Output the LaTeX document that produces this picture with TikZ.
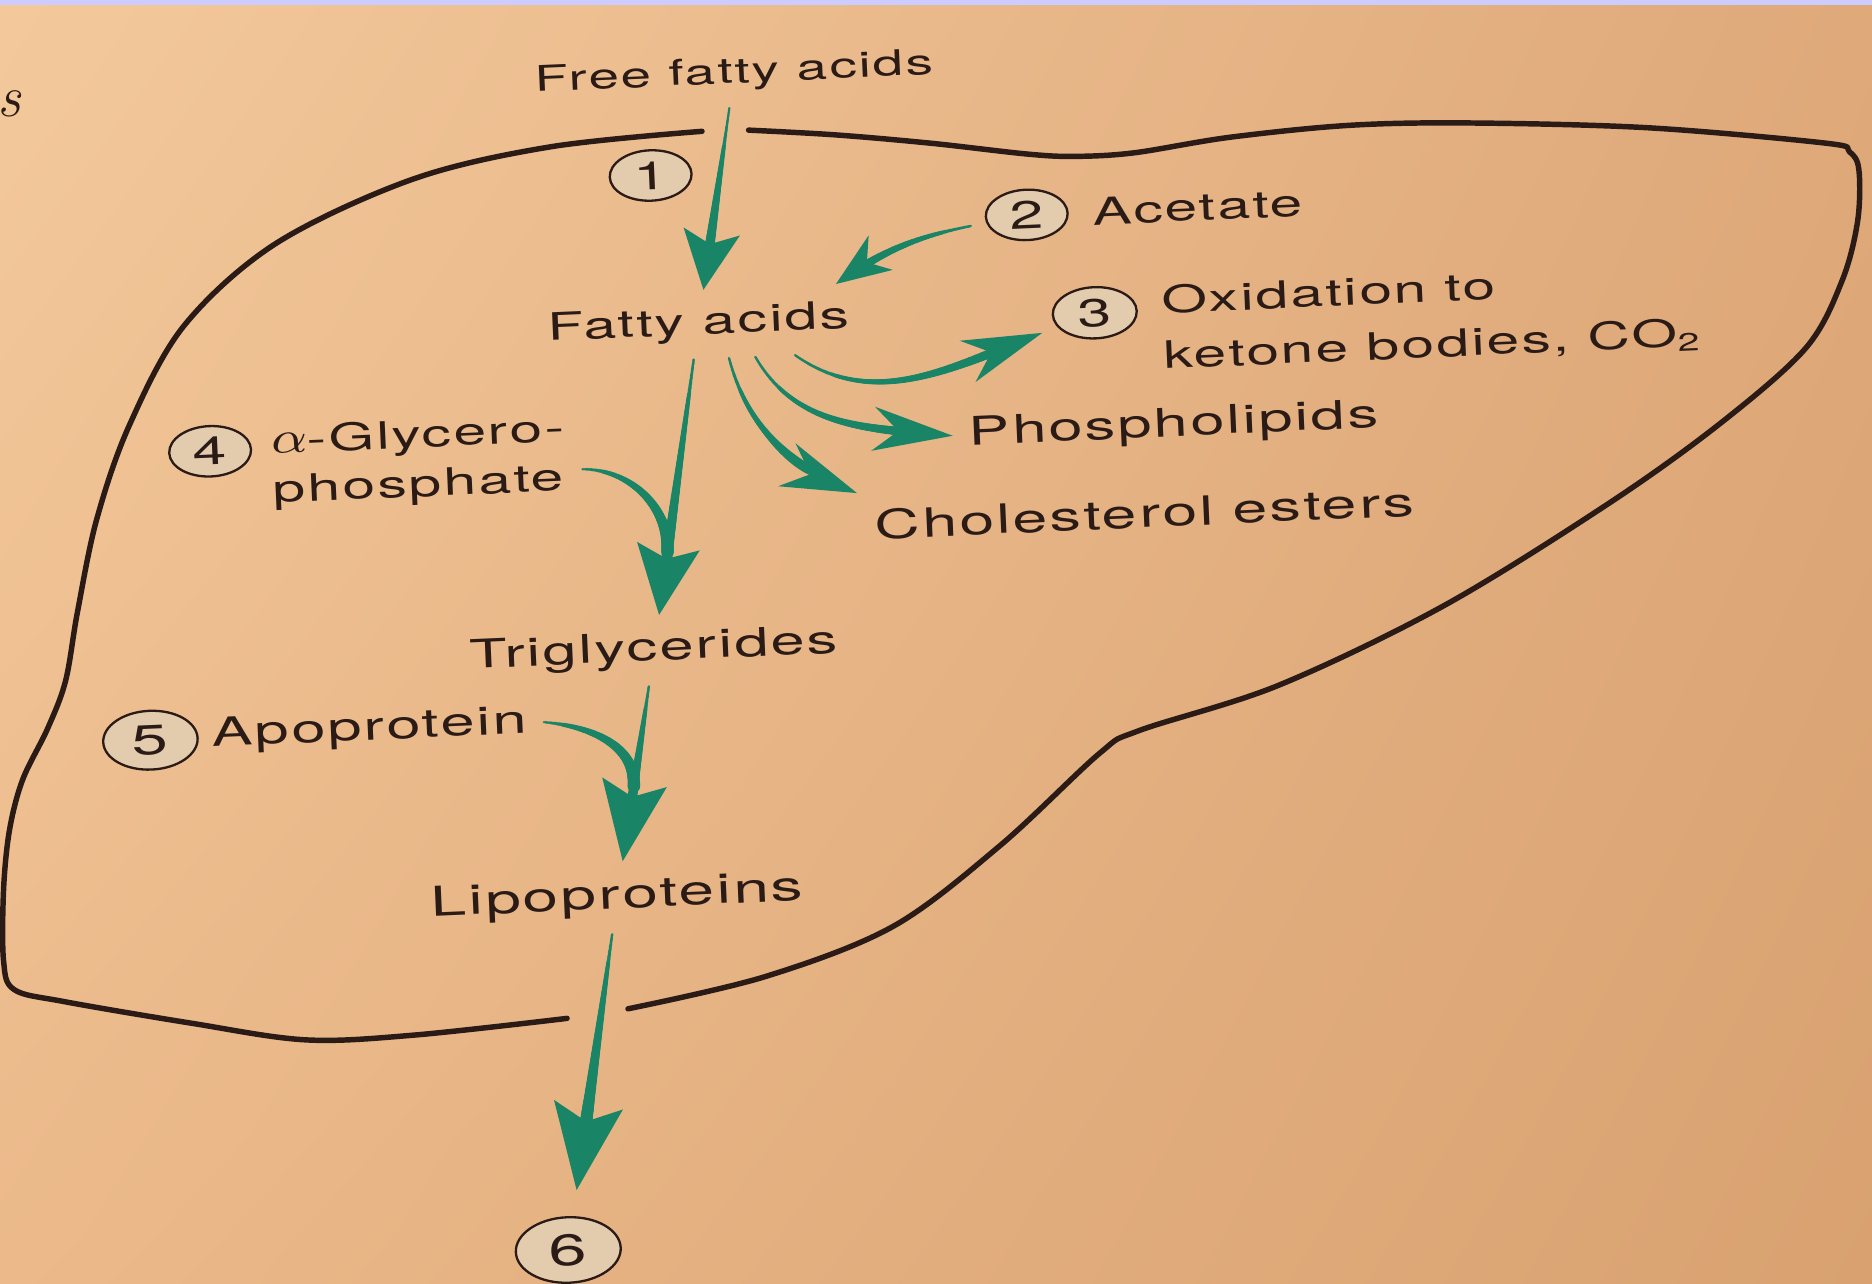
\documentclass[tikz,border=0pt]{standalone}
\usepackage{fontspec}
\newfontfamily\hel[FakeStretch=1.55,LetterSpace=6]{TeX Gyre Heros}
\usetikzlibrary{arrows.meta,calc,positioning,shapes.geometric,shadings,decorations.markings}
\definecolor{Leaf}{HTML}{1A8466}
\definecolor{Ink}{HTML}{2A1B17}
\definecolor{Bubble}{HTML}{E3CBAE}
\definecolor{PaperTL}{HTML}{F3C99C}
\definecolor{PaperTR}{HTML}{DFA97A}
\definecolor{PaperBL}{HTML}{EBB98A}
\definecolor{PaperBR}{HTML}{D9A170}
\definecolor{Strip}{HTML}{CCCCFF}
\newcommand\lblfont[1]{\hel\fontsize{#1}{10.2}\selectfont}

\begin{document}
\begin{tikzpicture}[x=0.01cm,y=0.01cm,
    lbl/.style={font={\lblfont{9}},text=Ink,rotate=2.5,inner sep=2pt,outer sep=2pt},
    num/.style={ellipse,draw=Ink,line width=0.55pt,fill=Bubble,text=Ink,font={\lblfont{9.3}},
      minimum width=19.5pt,minimum height=12pt,inner sep=0pt,outer sep=4pt,rotate=2.5},
    rim/.style={draw=Ink,line width=1.3pt,line cap=round,line join=round},
    flow/.style={draw=Leaf,line width=0.5pt},
    head/.style n args={3}{-{Stealth[length=#1,width=#2,inset=#3]}},
    taper/.style n args={3}{postaction={decorate,decoration={markings,
        mark=between positions 0 and #3 step 0.3pt with {%
          \pgfmathsetmacro\tapfrac{\pgfkeysvalueof{/pgf/decoration/mark info/distance from start}/\pgfdecoratedpathlength}%
          \fill[Leaf] (0,0) circle[radius=#1+(#2-#1)*\tapfrac];}}}}]
  % paper
  \useasboundingbox (0,0) rectangle (1568,1075);
  \shade[upper left=PaperTL,upper right=PaperTR,lower left=PaperBL,lower right=PaperBR]
    (0,0) rectangle (1568,1075);
  \fill[Strip] (0,1071) rectangle (1568,1075);
  \node[font=\itshape\fontsize{14}{14}\selectfont,text=Ink,inner sep=0pt] (edge) at (8,988) {s};

  % liver outline, two pieces
  \draw[rim] plot[smooth,tension=0.55] coordinates {(588,965) (461,952) (346,925) (231,871)
    (154,802) (108,718) (81,640) (65,563) (55,505) (40,465) (19,422) (8,380) (3,330) (3,270)
    (12,246) (54,236) (160,218) (256,204) (347,208) (475,222)};
  \draw[rim] plot[smooth,tension=0.55] coordinates {(526,230) (641,257) (748,299) (838,367)
    (921,444) (954,463) (1071,501) (1210,568) (1350,655) (1443,722) (1513,784) (1543,840)
    (1556,890) (1557,933) (1549,948) (1530,955) (1380,968) (1230,972) (1130,970) (1030,960)
    (950,947) (900,944) (860,946) (780,955) (700,962) (627,966)};

  % labels
  \node[lbl,font={\lblfont{8.4}}] (ffa) at (615,1013) {Free fatty acids};
  \node[num] (c1) at (545,928) {1};
  \node[lbl] (fa) at (585,803) {Fatty acids};
  \node[num] (c2) at (860,895) {2};
  \node[lbl,right=-2pt of c2] (acet) {Acetate};
  \node[num,minimum width=20pt,minimum height=12.2pt] (c3) at (917,813) {3};
  \node[lbl,anchor=west,align=left] (ox) at (960,798) {Oxidation to\\[3pt]ketone bodies, CO\textsubscript{2}};
  \node[lbl,anchor=west,font={\lblfont{9.4}}] (phos) at (798,710) {Phospholipids};
  \node[lbl,anchor=west,font={\lblfont{9.6}}] (chol) at (719,635) {Cholesterol esters};
  \node[num] (c4) at (176,697) {4};
  \node[lbl,anchor=west,align=left] (gly) at (214,682)
    {\scalebox{1.45}[1.2]{$\alpha$}-Glycero-\\[1.5pt]phosphate};
  \node[lbl,font={\lblfont{9.4}}] (trig) at (548,530) {Triglycerides};
  \node[num,minimum width=22.5pt,minimum height=14pt,font={\lblfont{10}}] (c5) at (126,455) {5};
  \node[lbl,right=-4.5pt of c5,font={\lblfont{9.4}}] (apo) {Apoprotein};
  \node[lbl,font={\lblfont{9.8}}] (lipo) at (517,323) {Lipoproteins};
  \node[num,minimum width=25pt,minimum height=15.6pt,outer sep=6.5pt,font={\lblfont{10.5}}] (c6) at (476,28) {6};

  \coordinate (j1) at ($(fa)!0.7!(trig)$);
  \coordinate (j2) at ($(trig)!0.55!(lipo)$);

  % uptake and synthesis
  \draw[flow,head={14pt}{13.5pt}{3pt},taper={0.2pt}{1.5pt}{-6pt}] (ffa) -- (fa);
  \draw[flow,head={13pt}{10pt}{4pt},taper={0.3pt}{1.2pt}{-5pt}] (c2) to[out=190,in=35] (fa.14);
  % fates of fatty acids
  \draw[flow,head={19pt}{10.5pt}{6pt},taper={0.3pt}{1.3pt}{-7pt}] (fa.-20) to[out=-35,in=200] (c3);
  \draw[flow,head={19pt}{10.5pt}{6pt},taper={0.3pt}{1.3pt}{-7pt}] (fa.-32) to[out=-60,in=175] (phos.west);
  \draw[flow,head={18pt}{11pt}{6pt},taper={0.3pt}{1.3pt}{-7pt}] (fa.-50) to[out=-75,in=158] (chol.north west);
  \draw[flow,head={16.5pt}{15pt}{3pt},taper={0.3pt}{1.6pt}{-6pt}] (fa) -- (trig);
  \path[taper={0.3pt}{1.5pt}{1}] (gly.-5) to[out=0,in=88] (j1);
  % export
  \draw[flow,head={19pt}{15.5pt}{3.5pt},taper={0.3pt}{1.7pt}{-6pt}] (trig) -- (lipo);
  \path[taper={0.3pt}{1.5pt}{1}] (apo.east) to[out=-5,in=88] (j2);
  \draw[flow,head={20.5pt}{16.5pt}{4pt},taper={0.3pt}{1.9pt}{-6pt}] (lipo) -- (c6);
\end{tikzpicture}
\end{document}
